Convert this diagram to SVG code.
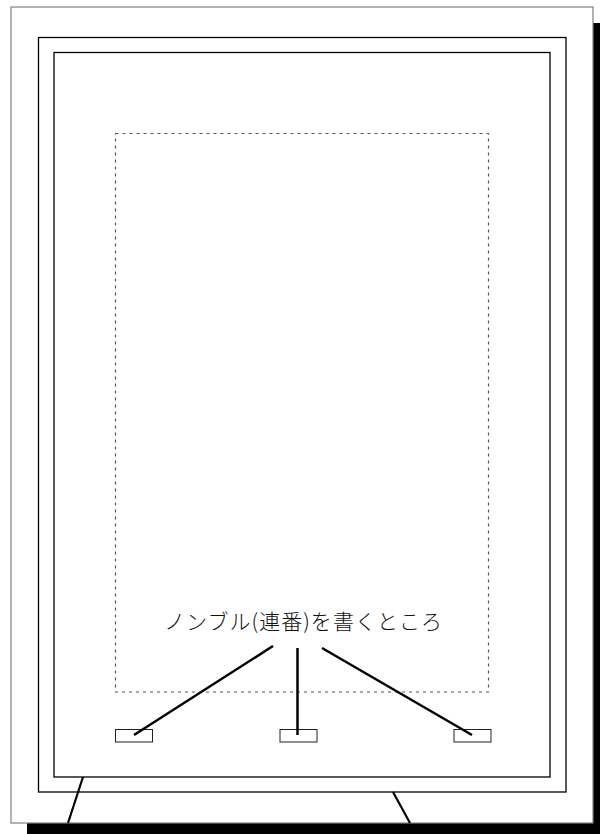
<svg xmlns="http://www.w3.org/2000/svg" width="600" height="834" viewBox="0 0 600 834">
  <style>
    .frame { fill: none; stroke: #000; stroke-width: 1.3; }
    .box { fill: #fff; stroke: #222; stroke-width: 1; }
    .conn { stroke: #000; stroke-width: 2.5; stroke-linecap: butt; fill: none; }
    .leg { stroke: #000; stroke-width: 2.2; fill: none; }
    .label { font-family: "Noto Sans CJK JP", "Liberation Serif", serif; font-size: 21px; font-weight: 300; fill: #111; }
  </style>
  <rect width="600" height="834" fill="#fff"/>
  <g id="page">
    <rect x="27" y="23" width="590" height="830" fill="#000"/>
    <rect x="11" y="7" width="582" height="816" fill="#fff" stroke="#808080" stroke-width="1.2"/>
  </g>
  <g id="legs">
    <line class="leg" x1="83" y1="777" x2="68" y2="823"/>
    <line class="leg" x1="393" y1="792" x2="410" y2="823"/>
  </g>
  <g id="outer-frame">
    <rect class="frame" x="38.5" y="37.5" width="527.5" height="754.5"/>
  </g>
  <g id="inner-frame">
    <rect class="frame" x="54" y="52.5" width="496" height="724.5"/>
  </g>
  <g id="text-area">
    <rect x="115.5" y="133.5" width="373" height="558.5" fill="none" stroke="#555" stroke-width="1.2" stroke-dasharray="3,4"/>
  </g>
  <g id="folio-left">
    <rect class="box" x="115.5" y="729.5" width="37" height="12.5"/>
  </g>
  <g id="folio-center">
    <rect class="box" x="280" y="729.5" width="37" height="12.5"/>
  </g>
  <g id="folio-right">
    <rect class="box" x="454" y="729.5" width="37" height="12.5"/>
  </g>
  <g id="label">
    <text class="label" x="303" y="629" text-anchor="middle" textLength="278" lengthAdjust="spacing">ノンブル(連番)を書くところ</text>
  </g>
  <g id="connectors">
    <line class="conn" x1="273" y1="646" x2="134" y2="735"/>
    <line class="conn" x1="297.5" y1="648" x2="297.5" y2="735"/>
    <line class="conn" x1="322" y1="648" x2="472" y2="735"/>
  </g>
</svg>
